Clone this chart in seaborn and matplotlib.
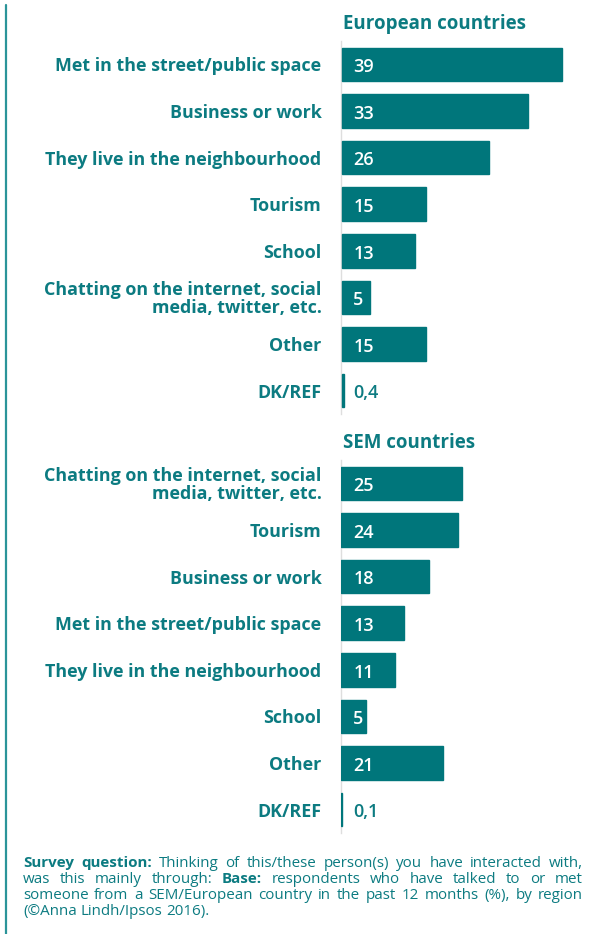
import seaborn as sns
import matplotlib.pyplot as plt
import pandas as pd

# Data (%)
eu_categories = ['Met in the street/public space', 'Business or work', 'They live in the neighbourhood',
                 'Tourism', 'School', 'Chatting on the internet, social\nmedia, twitter, etc.', 'Other', 'DK/REF']
eu_values = [39, 33, 26, 15, 13, 5, 15, 0.4]

sem_categories = ['Chatting on the internet, social\nmedia, twitter, etc.', 'Tourism', 'Business or work',
                  'Met in the street/public space', 'They live in the neighbourhood', 'School', 'Other', 'DK/REF']
sem_values = [25, 24, 18, 13, 11, 5, 21, 0.1]

panel_titles = ['European countries', 'SEM countries']

teal = '#00767b'
text_teal = '#0c7b81'

W, H = 592, 934
sns.set_theme(style='white')
plt.rcParams['font.family'] = ['Open Sans', 'DejaVu Sans']

fig = plt.figure(figsize=(W / 100, H / 100), dpi=100)

# left accent line
fig.add_artist(plt.Line2D([6 / W, 6 / W], [0, 1 - 5 / H], color='#2b9499', linewidth=1.6))


def panel(rect, cats, vals, xmax, title, title_y):
    df = pd.DataFrame({'cat': cats, 'val': vals})
    ax = fig.add_axes(rect)
    sns.barplot(data=df, x='val', y='cat', color=teal, width=0.72, saturation=1,
                edgecolor=teal, linewidth=1.0, ax=ax)
    ax.set_xlim(-0.1, xmax)
    ax.set_ylim(len(cats) - 0.5, -0.5)
    ax.set_xlabel('')
    ax.set_ylabel('')
    ax.set_xticks([])
    for s in ['top', 'right', 'bottom']:
        ax.spines[s].set_visible(False)
    ax.spines['left'].set_color('#dedede')
    ax.spines['left'].set_linewidth(1)
    ax.spines['left'].set_zorder(0.5)
    ax.tick_params(axis='y', length=0, pad=14, labelsize=12.9, labelcolor=text_teal)
    for lab in ax.get_yticklabels():
        lab.set_fontweight('bold')
        lab.set_linespacing(1.0)
    for i, v in enumerate(vals):
        txt = f'{v:g}'.replace('.', ',')
        inside = v >= 1
        ax.annotate(txt, xy=(0, i), xytext=(8.5, -2), textcoords='offset points',
                    ha='left', va='center', fontsize=13, fontweight='semibold',
                    color='white' if inside else text_teal)
    fig.text(343 / W, 1 - title_y / H, title, fontsize=13.5, fontweight='bold',
             color=text_teal, va='center', ha='left')
    return ax


ax_w = 239
panel([341 / W, 1 - 414 / H, ax_w / W, 373 / H], eu_categories, eu_values, ax_w / 5.67,
      panel_titles[0], 23.5)
panel([341 / W, 1 - 833 / H, ax_w / W, 373 / H], sem_categories, sem_values, ax_w / 4.85,
      panel_titles[1], 442.5)

# Footnote, justified like the original
note_lines = [
    ([('Survey question:', True), ('Thinking of this/these person(s) you have interacted with,', False)], True),
    ([('was this mainly through:', False), ('Base:', True), ('respondents who have talked to or met', False)], True),
    ([('someone from a SEM/European country in the past 12 months (%), by region', False)], True),
    ([('(©Anna Lindh/Ipsos 2016).', False)], False),
]
note_fs = 10.9
renderer = fig.canvas.get_renderer()
x0, x1 = 23, 583
baseline = 867
for parts, justify in note_lines:
    words = []
    for chunk, bold in parts:
        words += [(w, bold) for w in chunk.split()]
    texts = [fig.text(0, 1 - baseline / H, w, fontsize=note_fs, color=text_teal,
                      fontweight='bold' if b else 'normal', ha='left', va='baseline')
             for w, b in words]
    widths = [t.get_window_extent(renderer).width for t in texts]
    if justify and len(texts) > 1:
        gap = (x1 - x0 - sum(widths)) / (len(texts) - 1)
    else:
        gap = note_fs * 0.26 * 100 / 72
    x = x0
    for t, w in zip(texts, widths):
        t.set_x(x / W)
        x += w + gap
    baseline += 16

fig.savefig('out.png', dpi=100)
